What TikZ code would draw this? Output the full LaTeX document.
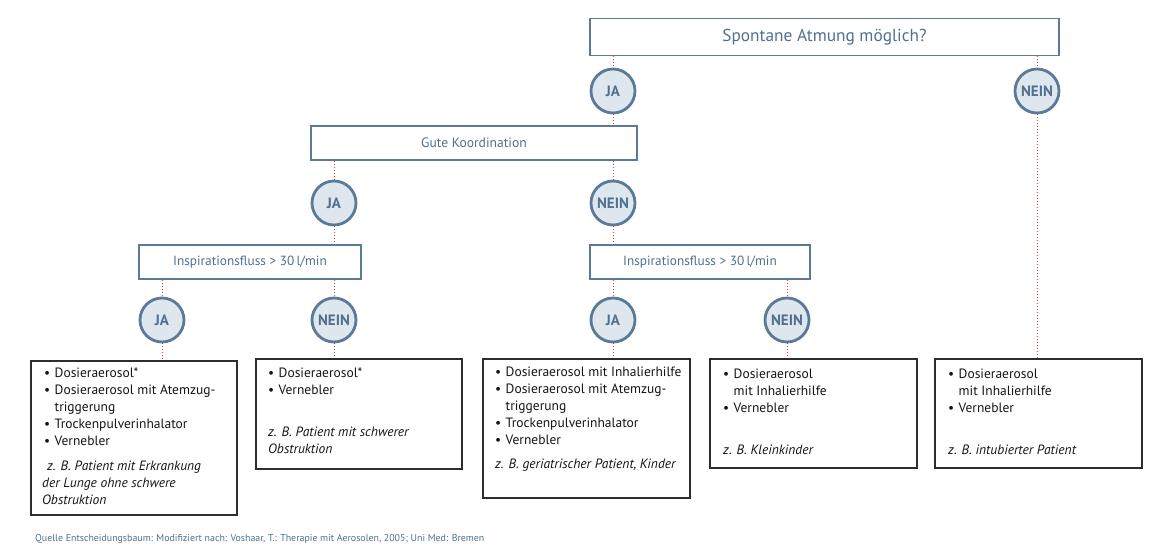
\documentclass[tikz,border=0pt]{standalone}
\usepackage{fontspec}
\setmainfont{PT Sans}
\definecolor{qblue}{RGB}{80,112,142}
\definecolor{cfill}{RGB}{222,230,238}
\definecolor{cline}{RGB}{90,122,152}
\definecolor{dred}{RGB}{225,60,60}
\definecolor{rline}{RGB}{45,45,45}
\definecolor{rtext}{RGB}{20,20,20}
\newcommand\bl{\makebox[10.5pt][l]{\textbullet}}
\newcommand\ind{\hspace*{10.5pt}}
\tikzset{
 qbox/.style={draw=cline, line width=1.6pt, text=qblue, inner sep=0pt},
 yn/.style={circle, draw=cline, line width=2.8pt, fill=cfill, minimum size=44pt, inner sep=0pt, text=qblue, font=\fontsize{15}{15}\selectfont\bfseries},
 rbox/.style={draw=rline, line width=1.6pt, inner sep=0pt},
 link/.style={draw=dred, dotted, line width=1pt},
 txt/.style={anchor=base west, inner sep=0pt, text=rtext},
}
\newcommand\lst[1]{\parbox[t]{200pt}{\fontsize{13.5}{17}\selectfont\raggedright #1}}
\begin{document}
\begin{tikzpicture}[x=1pt,y=-1pt]
\useasboundingbox (0,0) rectangle (1169,557);
% question boxes
\node[qbox, minimum width=469pt, minimum height=37pt, font=\fontsize{17.3}{17.3}\selectfont] (q1) at (824.5,37) {Spontane Atmung möglich?};
\node[qbox, minimum width=326pt, minimum height=34pt, font=\fontsize{13.6}{13.6}\selectfont] (q2) at (474,143) {Gute Koordination};
\node[qbox, minimum width=222pt, minimum height=34pt, font=\fontsize{13.3}{13.3}\selectfont] (q3) at (250,262) {Inspirationsfluss > 30\,l/min};
\node[qbox, minimum width=220pt, minimum height=34pt, font=\fontsize{13.3}{13.3}\selectfont] (q4) at (700,262) {Inspirationsfluss > 30\,l/min};
% yes/no circles
\node[yn] (j1) at (613,91) {JA};
\node[yn] (n1) at (1037,91) {NEIN};
\node[yn] (j2) at (334,203) {JA};
\node[yn] (n2) at (613,203) {NEIN};
\node[yn] (j3) at (162,320) {JA};
\node[yn] (n3) at (334,320) {NEIN};
\node[yn] (j4) at (613,320) {JA};
\node[yn] (n4) at (787,320) {NEIN};
% result boxes
\node[rbox, minimum width=206pt, minimum height=154pt] (r1) at (134,438) {};
\node[rbox, minimum width=206pt, minimum height=110pt] (r2) at (359,414) {};
\node[rbox, minimum width=207pt, minimum height=139pt] (r3) at (586.5,428.5) {};
\node[rbox, minimum width=207pt, minimum height=109pt] (r4) at (813.5,413.5) {};
\node[rbox, minimum width=207pt, minimum height=109pt] (r5) at (1038.5,413.5) {};
% connectors
\draw[link] (j1.north |- q1.south) -- (j1.north);
\draw[link] (n1.north |- q1.south) -- (n1.north);
\draw[link] (j1.south) -- (j1.south |- q2.north);
\draw[link] (n2.north |- q2.south) -- (n2.north);
\draw[link] (j2.north |- q2.south) -- (j2.north);
\draw[link] (j2.south) -- (j2.south |- q3.north);
\draw[link] (n2.south) -- (n2.south |- q4.north);
\draw[link] (j3.north |- q3.south) -- (j3.north);
\draw[link] (n3.north |- q3.south) -- (n3.north);
\draw[link] (j4.north |- q4.south) -- (j4.north);
\draw[link] (n4.north |- q4.south) -- (n4.north);
\draw[link] (j3.south) -- (j3.south |- r1.north);
\draw[link] (n3.south) -- (n3.south |- r2.north);
\draw[link] (j4.south) -- (j4.south |- r3.north);
\draw[link] (n4.south) -- (n4.south |- r4.north);
\draw[link] (n1.south) -- (n1.south |- r5.north);
% texts
\node[txt] (t1) at (44,377) {\lst{\bl Dosieraerosol*\\ \bl Dosieraerosol mit Atemzug-\\ \ind triggerung\\ \bl Trockenpulverinhalator\\ \bl Vernebler\\[8pt]
 \hspace*{3pt}\itshape z. B. Patient mit Erkrankung\\ \hspace*{-2pt}der Lunge ohne schwere\\ \hspace*{-2pt}Obstruktion}};
\node[txt] (t2) at (268,377) {\lst{\bl Dosieraerosol*\\ \bl Vernebler\\[25pt]
 \itshape z. B. Patient mit schwerer\\ Obstruktion}};
\node[txt] (t3) at (495,376) {\lst{\bl Dosieraerosol mit  Inhalierhilfe\\ \bl Dosieraerosol mit Atemzug-\\ \ind triggerung\\ \bl Trockenpulverinhalator\\ \bl Vernebler\\[7pt]
 \itshape z. B. geriatrischer Patient, Kinder}};
\node[txt] (t4) at (723,378) {\lst{\bl Dosieraerosol\\ \ind mit Inhalierhilfe\\ \bl Vernebler\\[25pt]
 \itshape z. B. Kleinkinder}};
\node[txt] (t5) at (948,378) {\lst{\bl Dosieraerosol\\ \ind mit Inhalierhilfe\\ \bl Vernebler\\[25pt]
 \itshape z. B. intubierter Patient}};
% footer
\node[anchor=base west, inner sep=0pt, text=qblue, font=\fontsize{9.9}{9.9}\selectfont] (src) at (35,541) {Quelle Entscheidungsbaum: Modifiziert nach: Voshaar, T.: Therapie mit Aerosolen, 2005; Uni Med: Bremen};
\end{tikzpicture}
\end{document}
